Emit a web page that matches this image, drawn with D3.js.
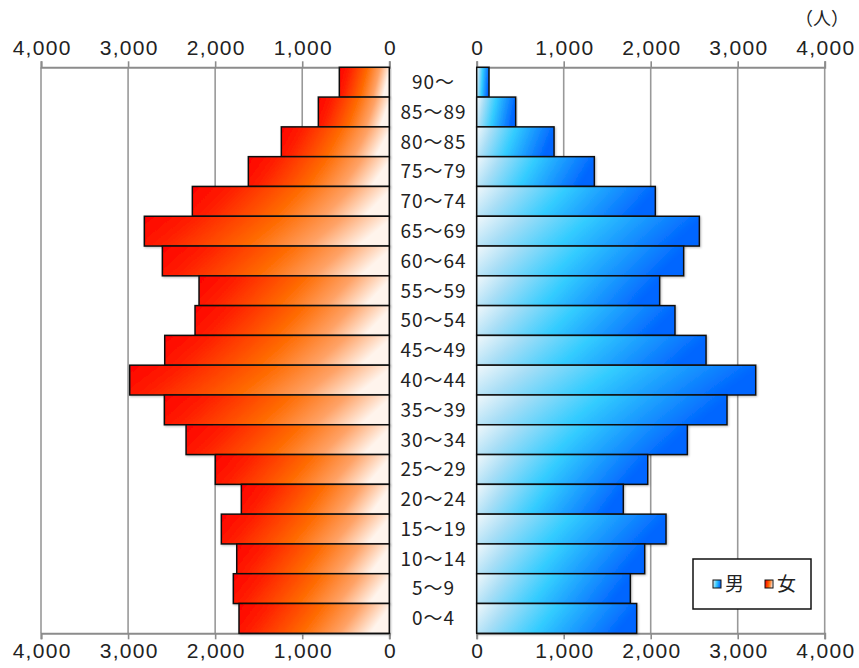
<!DOCTYPE html>
<html>
<head>
<meta charset="utf-8">
<script src="https://cdn.jsdelivr.net/npm/d3@7"></script>
<style>
  html, body { margin: 0; padding: 0; background: #fff; }
  svg { display: block; font-family: "Noto Sans CJK JP", "Noto Sans", sans-serif; }
</style>
</head>
<body>
<svg id="chart" width="859" height="668"></svg>
<script>
// Age groups, top to bottom
const ageGroups = ["90～","85～89","80～85","75～79","70～74","65～69","60～64","55～59","50～54","45～49",
                   "40～44","35～39","30～34","25～29","20～24","15～19","10～14","5～9","0～4"];
// Population by age group (persons)
const female = [574, 815, 1240, 1619, 2262, 2813, 2606, 2185, 2231, 2579,
                2981, 2583, 2334, 1998, 1699, 1929, 1752, 1791, 1726];
const male   = [141, 448, 889, 1352, 2053, 2559, 2379, 2103, 2279, 2636,
                3207, 2877, 2421, 1966, 1685, 2176, 1931, 1766, 1839];
const tickValues = [0, 1000, 2000, 3000, 4000];
const legendLabels = ["男", "女"];
const unitLabel = "（人）";

const svg = d3.select("#chart");
const plotTop = 67.3, plotBottom = 633.3;

const xLeft = d3.scaleLinear().domain([0, 4000]).range([389.3, 41]);
const xRight = d3.scaleLinear().domain([0, 4000]).range([476.7, 824.7]);
const y = d3.scaleBand().domain(ageGroups).range([plotTop, plotBottom]).padding(0);

// Gradient fills
const defs = svg.append("defs");
const gF = defs.append("linearGradient").attr("id", "gradF")
  .attr("x1", 0).attr("y1", 0).attr("x2", 1).attr("y2", 0.15);
[[0, "#ff0000"], [0.2, "#ff1e00"], [0.55, "#ff6a00"], [0.8, "#ffa266"], [1, "#fff4ec"]]
  .forEach(([o, c]) => gF.append("stop").attr("offset", o).attr("stop-color", c));
const gM = defs.append("linearGradient").attr("id", "gradM")
  .attr("x1", 0).attr("y1", 0).attr("x2", 1).attr("y2", 0.15);
[[0, "#f2f8fb"], [0.2, "#a8def6"], [0.5, "#33ccff"], [0.75, "#1a99ff"], [1, "#0066ff"]]
  .forEach(([o, c]) => gM.append("stop").attr("offset", o).attr("stop-color", c));

const shadow = defs.append("filter").attr("id", "shadow")
  .attr("x", "-5%").attr("y", "-20%").attr("width", "110%").attr("height", "140%");
shadow.append("feDropShadow").attr("dx", 1).attr("dy", 1).attr("stdDeviation", 0.8)
  .attr("flood-color", "#000").attr("flood-opacity", 0.25);

// Vertical gridlines
const grid = svg.append("g");
grid.selectAll("line.gl").data(tickValues).join("line")
  .attr("x1", d => xLeft(d)).attr("x2", d => xLeft(d))
  .attr("y1", plotTop).attr("y2", plotBottom)
  .attr("stroke", "#999").attr("stroke-width", 1.6);
grid.selectAll("line.gr").data(tickValues).join("line")
  .attr("x1", d => xRight(d)).attr("x2", d => xRight(d))
  .attr("y1", plotTop).attr("y2", plotBottom)
  .attr("stroke", "#999").attr("stroke-width", 1.6);

// Axes
const fmt = d3.format(",");
function styleAxis(g) {
  g.select(".domain").attr("stroke", "#8c8c8c").attr("stroke-width", 2);
  g.selectAll(".tick line").attr("stroke", "#8c8c8c").attr("stroke-width", 1.6);
  g.selectAll(".tick text").attr("fill", "#222").attr("font-size", 21)
    .attr("letter-spacing", "1.3px").attr("dx", "0.65px");
}
svg.append("g").attr("transform", `translate(0,${plotTop})`)
  .call(d3.axisTop(xLeft).tickValues(tickValues).tickFormat(fmt).tickSizeOuter(0).tickSize(6).tickPadding(6))
  .call(styleAxis);
svg.append("g").attr("transform", `translate(0,${plotTop})`)
  .call(d3.axisTop(xRight).tickValues(tickValues).tickFormat(fmt).tickSizeOuter(0).tickSize(6).tickPadding(6))
  .call(styleAxis);
svg.append("g").attr("transform", `translate(0,${plotBottom})`)
  .call(d3.axisBottom(xLeft).tickValues(tickValues).tickFormat(fmt).tickSizeOuter(0).tickSize(6).tickPadding(4))
  .call(styleAxis);
svg.append("g").attr("transform", `translate(0,${plotBottom})`)
  .call(d3.axisBottom(xRight).tickValues(tickValues).tickFormat(fmt).tickSizeOuter(0).tickSize(6).tickPadding(4))
  .call(styleAxis);

// Bars
svg.append("g").selectAll("rect").data(ageGroups).join("rect")
  .attr("x", (d, i) => xLeft(female[i]))
  .attr("y", d => y(d))
  .attr("width", (d, i) => xLeft(0) - xLeft(female[i]))
  .attr("height", y.bandwidth())
  .attr("fill", "url(#gradF)")
  .attr("stroke", "#111").attr("stroke-width", 1.5)
  .attr("filter", "url(#shadow)");
svg.append("g").selectAll("rect").data(ageGroups).join("rect")
  .attr("x", xRight(0))
  .attr("y", d => y(d))
  .attr("width", (d, i) => xRight(male[i]) - xRight(0))
  .attr("height", y.bandwidth())
  .attr("fill", "url(#gradM)")
  .attr("stroke", "#111").attr("stroke-width", 1.5)
  .attr("filter", "url(#shadow)");

// Age labels
svg.append("g").selectAll("text").data(ageGroups).join("text")
  .attr("x", (xLeft(0) + xRight(0)) / 2 + 0.5)
  .attr("y", d => y(d) + y.bandwidth() / 2)
  .attr("dy", "0.36em")
  .attr("text-anchor", "middle")
  .attr("font-size", 19)
  .attr("letter-spacing", "1px")
  .attr("fill", "#222")
  .text(d => d);

// Unit label
svg.append("text").attr("x", 822).attr("y", 25).attr("text-anchor", "middle")
  .attr("font-size", 18).attr("fill", "#222").text(unitLabel);

// Legend
const legend = svg.append("g");
legend.append("rect").attr("x", 693).attr("y", 559).attr("width", 118).attr("height", 50)
  .attr("fill", "#fff").attr("stroke", "#111").attr("stroke-width", 1.5);
const legendFills = ["url(#gradM)", "url(#gradF)"];
const legendX = [713, 765];
legendLabels.forEach((lab, i) => {
  legend.append("rect").attr("x", legendX[i]).attr("y", 580).attr("width", 8).attr("height", 8)
    .attr("fill", legendFills[i]).attr("stroke", "#111").attr("stroke-width", 1);
  legend.append("text").attr("x", legendX[i] + 12).attr("y", 584).attr("dy", "0.36em")
    .attr("font-size", 19).attr("fill", "#222").text(lab);
});
</script>
</body>
</html>
